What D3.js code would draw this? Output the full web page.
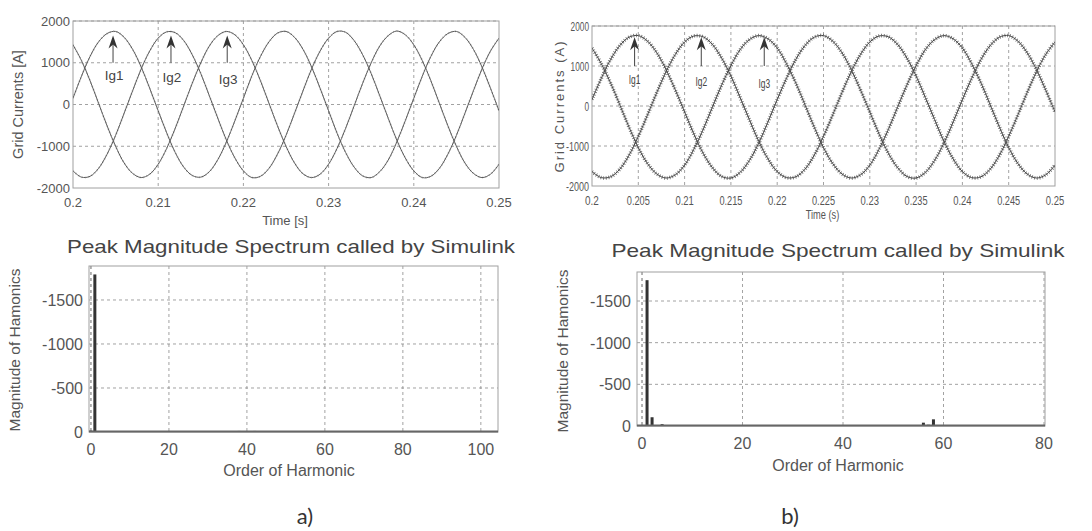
<!DOCTYPE html>
<html>
<head>
<meta charset="utf-8">
<script src="https://cdn.jsdelivr.net/npm/d3@7/dist/d3.min.js"></script>
<style>
  body { margin: 0; background: #fff; }
  svg { display: block; }
</style>
</head>
<body>
<svg id="fig" width="1092" height="531"></svg>
<script>
// sample times (s)
const times = [
  0.200, 0.201, 0.202, 0.203, 0.204, 0.205, 0.206, 0.207, 0.208, 0.209,
  0.210, 0.211, 0.212, 0.213, 0.214, 0.215, 0.216, 0.217, 0.218, 0.219,
  0.220, 0.221, 0.222, 0.223, 0.224, 0.225, 0.226, 0.227, 0.228, 0.229,
  0.230, 0.231, 0.232, 0.233, 0.234, 0.235, 0.236, 0.237, 0.238, 0.239,
  0.240, 0.241, 0.242, 0.243, 0.244, 0.245, 0.246, 0.247, 0.248, 0.249,
  0.250
];

// a) grid currents (A)
const ia1 = [
  150, 680, 1150, 1500, 1700, 1750, 1610, 1320, 900, 390,
  -150, -680, -1150, -1500, -1700, -1740, -1610, -1320, -900, -390,
  150, 690, 1150, 1500, 1710, 1750, 1610, 1320, 900, 390,
  -150, -690, -1150, -1500, -1710, -1750, -1610, -1330, -900, -390,
  150, 680, 1150, 1500, 1700, 1750, 1610, 1320, 900, 390,
  -150
];
const ia2 = [
  -1590, -1740, -1720, -1530, -1190, -740, -210, 330, 850, 1280,
  1590, 1740, 1720, 1530, 1190, 740, 210, -330, -850, -1280,
  -1590, -1750, -1720, -1530, -1190, -740, -210, 330, 850, 1280,
  1590, 1750, 1730, 1530, 1190, 740, 210, -330, -850, -1280,
  -1590, -1750, -1720, -1530, -1190, -740, -210, 330, 850, 1280,
  1590
];
const ia3 = [
  1430, 1050, 570, 30, -510, -1000, -1400, -1650, -1750, -1670,
  -1430, -1050, -570, -30, 510, 1000, 1400, 1650, 1750, 1670,
  1430, 1050, 570, 30, -510, -1000, -1400, -1660, -1750, -1670,
  -1430, -1050, -570, -30, 510, 1000, 1400, 1650, 1760, 1670,
  1430, 1050, 570, 30, -510, -1000, -1400, -1650, -1750, -1670,
  -1430
];

// b) grid currents (A)
const ib1 = [
  160, 690, 1160, 1510, 1720, 1760, 1620, 1330, 910, 400,
  -150, -700, -1180, -1540, -1760, -1800, -1660, -1360, -930, -400,
  160, 690, 1160, 1510, 1720, 1760, 1620, 1330, 910, 400,
  -150, -700, -1180, -1540, -1760, -1800, -1660, -1360, -930, -400,
  160, 690, 1160, 1510, 1720, 1760, 1620, 1330, 910, 400,
  -150
];
const ib2 = [
  -1640, -1790, -1770, -1580, -1230, -760, -220, 340, 860, 1290,
  1600, 1750, 1730, 1540, 1200, 750, 210, -340, -880, -1320,
  -1640, -1790, -1770, -1580, -1230, -760, -220, 340, 860, 1290,
  1600, 1750, 1730, 1540, 1200, 750, 210, -340, -880, -1320,
  -1640, -1790, -1770, -1580, -1230, -760, -220, 340, 860, 1290,
  1600
];
const ib3 = [
  1450, 1060, 580, 30, -530, -1040, -1440, -1700, -1800, -1720,
  -1480, -1080, -590, -30, 520, 1010, 1410, 1660, 1760, 1680,
  1450, 1060, 580, 30, -530, -1040, -1440, -1700, -1800, -1720,
  -1480, -1080, -590, -30, 520, 1010, 1410, 1660, 1760, 1680,
  1450, 1060, 580, 30, -530, -1040, -1440, -1700, -1800, -1720,
  -1480
];

const timeTicksA = [0.2, 0.21, 0.22, 0.23, 0.24, 0.25];
const timeTicksB = [0.2, 0.205, 0.21, 0.215, 0.22, 0.225, 0.23, 0.235, 0.24, 0.245, 0.25];
const currentTicks = [-2000, -1000, 0, 1000, 2000];

const phaseLabels = ["Ig1", "Ig2", "Ig3"];
const arrowTimesA = [0.2047, 0.2115, 0.2181];
const arrowTimesB = [0.2046, 0.2118, 0.2186];

// harmonic spectra
const harmA = [0, 1, 2, 3, 5, 7, 38, 42, 100];
const magA = [15, 1790, 8, 5, 6, 4, 12, 12, 6];
const harmB = [0, 1, 2, 4, 56, 57, 58];
const magB = [10, 1750, 105, 22, 40, 15, 80];

const harmTicksA = [0, 20, 40, 60, 80, 100];
const harmTicksB = [0, 20, 40, 60, 80];
const magTicks = [0, 500, 1000, 1500];
const magTickLabels = ["0", "-500", "-1000", "-1500"];

const svg = d3.select("#fig");
svg.append("rect").attr("width", 1092).attr("height", 531).attr("fill", "#fff");

const sans = "'Liberation Sans', Arial, sans-serif";

// squeeze text to look like the condensed font of panel b
function squeeze(sel, perChar) {
    sel.attr("textLength", function () { return this.textContent.length * perChar; })
        .attr("lengthAdjust", "spacingAndGlyphs");
}

function grid(g, x, y, xTicks, yTicks, box) {
    g.selectAll(".vg").data(xTicks.filter(d => x(d) > box.x0 + 1 && x(d) < box.x1 - 1))
        .join("line")
        .attr("x1", d => x(d)).attr("x2", d => x(d))
        .attr("y1", box.y0).attr("y2", box.y1)
        .attr("stroke", "#8a8a8a").attr("stroke-width", 0.8)
        .attr("stroke-dasharray", "3,3");
    g.selectAll(".hg").data(yTicks.filter(d => y(d) < box.y1 - 1))
        .join("line")
        .attr("x1", box.x0).attr("x2", box.x1)
        .attr("y1", d => y(d)).attr("y2", d => y(d))
        .attr("stroke", "#8a8a8a").attr("stroke-width", 0.8)
        .attr("stroke-dasharray", "3,3");
    g.append("rect")
        .attr("x", box.x0).attr("y", box.y0)
        .attr("width", box.x1 - box.x0).attr("height", box.y1 - box.y0)
        .attr("fill", "none").attr("stroke", "#a0a0a0").attr("stroke-width", 1);
}

function wavePanel(o) {
    const g = svg.append("g");
    const x = d3.scaleLinear().domain([0.2, 0.25]).range([o.x0, o.x1]);
    const y = d3.scaleLinear().domain([-2000, 2000]).range([o.y1, o.y0]);
    grid(g, x, y, o.xTicks, currentTicks, o);

    const clipId = "clip" + o.id;
    g.append("clipPath").attr("id", clipId)
        .append("rect").attr("x", o.x0).attr("y", o.y0 - 2)
        .attr("width", o.x1 - o.x0).attr("height", o.y1 - o.y0 + 4);

    const line = d3.line()
        .x((d, i) => x(times[i]))
        .y(d => y(d))
        .curve(d3.curveCatmullRom);

    const curves = g.append("g").attr("clip-path", `url(#${clipId})`);
    o.series.forEach(s => {
        curves.append("path").attr("d", line(s))
            .attr("fill", "none").attr("stroke", o.ripple ? "#444" : "#5c5c5c").attr("stroke-width", 1);
        // switching ripple texture
        curves.append("path").attr("d", line(s))
            .attr("fill", "none").attr("stroke", "#555")
            .attr("stroke-width", o.ripple ? 3.6 : 2)
            .attr("stroke-dasharray", o.ripple ? "0.9,1.7" : "1,2.5")
            .attr("opacity", o.ripple ? 0.8 : 0.3);
    });

    // tick labels
    const yt = g.selectAll(".yt").data(currentTicks).join("text")
        .attr("x", o.x0 - 3).attr("y", d => y(d) + 4.5)
        .attr("text-anchor", "end")
        .attr("font-family", sans).attr("font-size", o.tickSize)
        .attr("fill", "#555").text(d => d);
    const xt = g.selectAll(".xt").data(o.xTicks).join("text")
        .attr("x", d => x(d)).attr("y", o.xTickY)
        .attr("text-anchor", "middle")
        .attr("font-family", sans).attr("font-size", o.tickSize)
        .attr("fill", "#555").text(d => d);

    const xTitle = g.append("text")
        .attr("x", (o.x0 + o.x1) / 2 + o.xTitleDx).attr("y", o.xTitleY)
        .attr("text-anchor", "middle")
        .attr("font-family", sans).attr("font-size", o.tickSize)
        .attr("fill", "#555").text(o.xTitle);
    g.append("text")
        .attr("transform", `translate(${o.yTitleX},${(o.y0 + o.y1) / 2}) rotate(-90)`)
        .attr("text-anchor", "middle")
        .attr("font-family", sans).attr("font-size", o.yTitleSize)
        .attr("letter-spacing", o.yTitleSpacing)
        .attr("fill", "#555").text(o.yTitle);

    // phase arrows
    const labels = [];
    o.arrowTimes.forEach((t, i) => {
        const ax = x(t), tip = y(o.arrowTip), tail = y(1000);
        g.append("line").attr("x1", ax).attr("x2", ax)
            .attr("y1", tip + 6).attr("y2", tail)
            .attr("stroke", "#444").attr("stroke-width", 1);
        g.append("path")
            .attr("d", `M${ax},${tip} L${ax - 4.5},${tip + 13} L${ax},${tip + 9} L${ax + 4.5},${tip + 13} Z`)
            .attr("fill", "#333");
        labels.push(g.append("text")
            .attr("x", ax + (o.ripple ? 0 : 1)).attr("y", y(o.labelVal) + i * 2)
            .attr("text-anchor", "middle")
            .attr("font-family", sans).attr("font-size", o.labelSize)
            .attr("fill", "#444").text(phaseLabels[i]));
    });

    if (o.ripple) {
        squeeze(yt, 4.6);
        squeeze(xt, 4.6);
        squeeze(xTitle, 4.2);
        labels.forEach(l => squeeze(l, 3.9));
    }
}

function spectrumPanel(o) {
    const g = svg.append("g");
    const x = d3.scaleLinear().domain(o.xDomain).range([o.x0, o.x1]);
    const y = d3.scaleLinear().domain([0, o.yMax]).range([o.y1, o.y0]);
    grid(g, x, y, o.xTicks, magTicks, o);
    // zero-order gridline sits just inside the frame
    g.append("line").attr("x1", x(0)).attr("x2", x(0))
        .attr("y1", o.y0).attr("y2", o.y1)
        .attr("stroke", "#8a8a8a").attr("stroke-width", 0.8).attr("stroke-dasharray", "3,3");

    g.selectAll(".bar").data(o.harm).join("rect")
        .attr("x", d => x(d) - 1.5).attr("width", 3)
        .attr("y", (d, i) => y(o.mag[i]))
        .attr("height", (d, i) => y(0) - y(o.mag[i]))
        .attr("fill", "#333");
    g.append("line").attr("x1", o.x0).attr("x2", o.x1)
        .attr("y1", y(0) - 0.5).attr("y2", y(0) - 0.5)
        .attr("stroke", "#666").attr("stroke-width", 2);

    g.selectAll(".yt").data(magTicks).join("text")
        .attr("x", o.x0 - 6).attr("y", d => y(d) + 6)
        .attr("text-anchor", "end")
        .attr("font-family", sans).attr("font-size", 16)
        .attr("fill", "#555").text((d, i) => magTickLabels[i]);
    g.selectAll(".xt").data(o.xTicks).join("text")
        .attr("x", d => x(d)).attr("y", o.xTickY)
        .attr("text-anchor", "middle")
        .attr("font-family", sans).attr("font-size", 16)
        .attr("fill", "#555").text(d => d);

    g.append("text")
        .attr("x", o.titleX).attr("y", o.titleY)
        .attr("text-anchor", "middle")
        .attr("font-family", sans).attr("font-size", 19)
        .attr("textLength", o.titleLen).attr("lengthAdjust", "spacingAndGlyphs")
        .attr("fill", "#444").text("Peak Magnitude Spectrum called by Simulink");
    g.append("text")
        .attr("x", o.xTitleX).attr("y", o.xTitleY)
        .attr("text-anchor", "middle")
        .attr("font-family", sans).attr("font-size", 16)
        .attr("fill", "#555").text("Order of Harmonic");
    g.append("text")
        .attr("transform", `translate(${o.yTitleX},${o.yTitleY}) rotate(-90)`)
        .attr("text-anchor", "middle")
        .attr("font-family", sans).attr("font-size", 15.5)
        .attr("fill", "#555").text("Magnitude of Hamonics");
}

wavePanel({
    id: "a", x0: 73, x1: 499, y0: 21, y1: 188,
    series: [ia1, ia2, ia3], ripple: false,
    xTicks: timeTicksA, tickSize: 13, xTickY: 207,
    xTitle: "Time [s]", xTitleY: 225, xTitleDx: -1,
    yTitle: "Grid Currents [A]", yTitleX: 23, yTitleSize: 14.5, yTitleSpacing: 0,
    arrowTimes: arrowTimesA, arrowTip: 1650, labelVal: 590, labelSize: 13.5
});

wavePanel({
    id: "b", x0: 592, x1: 1055, y0: 26, y1: 186,
    series: [ib1, ib2, ib3], ripple: true,
    xTicks: timeTicksB, tickSize: 13, xTickY: 205,
    xTitle: "Time (s)", xTitleY: 219, xTitleDx: -1,
    yTitle: "Grid Currents (A)", yTitleX: 564, yTitleSize: 13, yTitleSpacing: 2,
    arrowTimes: arrowTimesB, arrowTip: 1720, labelVal: 550, labelSize: 13
});

spectrumPanel({
    x0: 89, x1: 498, y0: 266, y1: 432,
    xDomain: [-0.5, 104.4], yMax: 1886,
    harm: harmA, mag: magA, xTicks: harmTicksA, xTickY: 455,
    titleX: 291, titleY: 253, titleLen: 448,
    xTitleX: 289, xTitleY: 476, yTitleX: 20, yTitleY: 350
});

spectrumPanel({
    x0: 637, x1: 1045, y0: 272, y1: 426,
    xDomain: [-1, 80.2], yMax: 1848,
    harm: harmB, mag: magB, xTicks: harmTicksB, xTickY: 449,
    titleX: 838, titleY: 257, titleLen: 453,
    xTitleX: 838, xTitleY: 471, yTitleX: 568, yTitleY: 351
});

svg.append("text").attr("x", 305).attr("y", 524)
    .attr("text-anchor", "middle").attr("font-family", "Lato, 'Open Sans', sans-serif")
    .attr("font-size", 22).attr("fill", "#333").text("a)");
svg.append("text").attr("x", 790).attr("y", 524)
    .attr("text-anchor", "middle").attr("font-family", "Lato, 'Open Sans', sans-serif")
    .attr("font-size", 22).attr("fill", "#333").text("b)");
</script>
</body>
</html>
